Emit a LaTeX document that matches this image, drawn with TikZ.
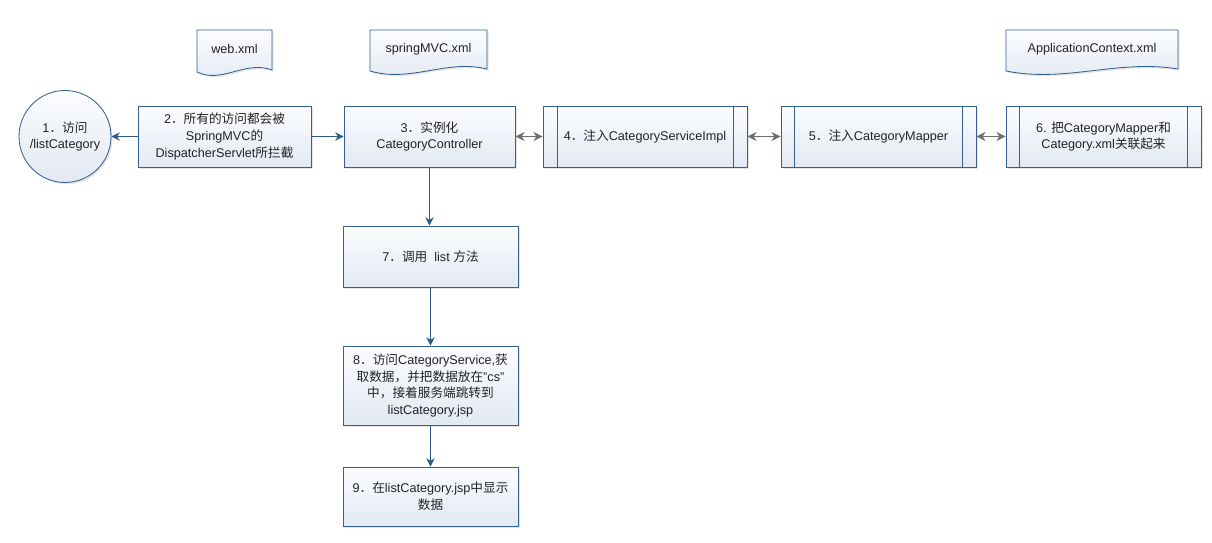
\documentclass[tikz,border=0pt]{standalone}
\usepackage{fontspec}
\setmainfont{Liberation Sans}
\newfontfamily\cjk{Noto Sans CJK SC}
\usepackage{tikz}
\usetikzlibrary{arrows.meta,shadows}

\definecolor{boxline}{RGB}{52,97,145}
\definecolor{boxtop}{RGB}{251,252,254}
\definecolor{boxbot}{RGB}{226,233,243}
\definecolor{flowline}{RGB}{45,90,135}
\definecolor{linkgray}{RGB}{112,112,112}
\definecolor{txt}{RGB}{35,35,35}

\newcommand\zh[1]{{\cjk #1}}
\newcommand\pxl{0.025cm}

\tikzset{
  faint/.style={drop shadow={shadow xshift=1.2pt, shadow yshift=-1.2pt, fill=black, opacity=0.10}},
  box/.style={draw=boxline, line width=0.6pt, top color=boxtop, bottom color=boxbot,
    align=center, inner sep=0pt, text=txt, font=\fontsize{9}{12}\selectfont, faint},
  doc/.style={inner sep=0pt, text=txt, font=\fontsize{9}{12}\selectfont},
  flow/.style={draw=flowline, line width=0.6pt, -{Stealth[length=6pt,width=6pt,inset=2pt]}},
  link/.style={draw=linkgray, line width=0.9pt,
    {Stealth[length=6.5pt,width=6.5pt,inset=2pt]}-{Stealth[length=6.5pt,width=6.5pt,inset=2pt]}},
}

\begin{document}
\begin{tikzpicture}[x=0.025cm, y=-0.025cm]
        \useasboundingbox (0,0) rectangle (1212,543);

        % xml files
        \shade [faint, draw=boxline, line width=0.6pt, top color=boxtop, bottom color=boxbot]
          (197,30) -- (272,30) -- (272,70) .. controls (245,60) and (222,84) .. (197,72) -- cycle;
        \shade [faint, draw=boxline, line width=0.6pt, top color=boxtop, bottom color=boxbot]
          (370,30) -- (487,30) -- (487,69) .. controls (446,59) and (411,83) .. (370,71) -- cycle;
        \shade [faint, draw=boxline, line width=0.6pt, top color=boxtop, bottom color=boxbot]
          (1006,30) -- (1178,30) -- (1178,69) .. controls (1118,59) and (1066,83) .. (1006,71) -- cycle;
        \node [doc] (webxml) at (234.5,49) {web.xml};
        \node [doc] (mvcxml) at (428.5,49) {springMVC.xml};
        \node [doc] (appxml) at (1092,49) {ApplicationContext.xml};

        % first row
        \node [box, circle, minimum size=92*\pxl] (visit) at (65,136.5)
          {1\zh{．访问}\\/listCategory};
        \node [box, minimum width=173*\pxl, minimum height=61*\pxl] (dispatch) at (224.5,136.5)
          {2\zh{．所有的访问都会被}\\SpringMVC\zh{的}\\DispatcherServlet\zh{所拦截}};
        \node [box, minimum width=171*\pxl, minimum height=61*\pxl] (ctrl) at (429.5,136.5)
          {3\zh{．实例化}\\CategoryController};
        \node [box, minimum width=204*\pxl, minimum height=61*\pxl] (service) at (645,136.5)
          {4\zh{．注入}CategoryServiceImpl};
        \node [box, minimum width=195*\pxl, minimum height=61*\pxl] (mapper) at (878.5,136.5)
          {5\zh{．注入}CategoryMapper};
        \node [box, minimum width=195*\pxl, minimum height=61*\pxl] (mapxml) at (1103.5,136.5)
          {6. \zh{把}CategoryMapper\zh{和}\\Category.xml\zh{关联起来}};

        \draw [draw=boxline, line width=0.6pt] ([shift={(15,0)}]service.north west) -- ([shift={(15,0)}]service.south west);
        \draw [draw=boxline, line width=0.6pt] ([shift={(-14,0)}]service.north east) -- ([shift={(-14,0)}]service.south east);
        \draw [draw=boxline, line width=0.6pt] ([shift={(14,0)}]mapper.north west) -- ([shift={(14,0)}]mapper.south west);
        \draw [draw=boxline, line width=0.6pt] ([shift={(-14,0)}]mapper.north east) -- ([shift={(-14,0)}]mapper.south east);
        \draw [draw=boxline, line width=0.6pt] ([shift={(14,0)}]mapxml.north west) -- ([shift={(14,0)}]mapxml.south west);
        \draw [draw=boxline, line width=0.6pt] ([shift={(-14,0)}]mapxml.north east) -- ([shift={(-14,0)}]mapxml.south east);

        % column below the controller
        \node [box, minimum width=175*\pxl, minimum height=61*\pxl] (calllist) at (430.5,256.5)
          {7\zh{．调用}\ \ list \zh{方法}};
        \node [box, minimum width=175*\pxl, minimum height=79*\pxl] (getdata) at (430.5,385.5)
          {8\zh{．访问}CategoryService,\zh{获}\\\zh{取数据，并把数据放在}"cs"\\\zh{中，接着服务端跳转到}\\listCategory.jsp};
        \node [box, minimum width=175*\pxl, minimum height=59*\pxl] (show) at (430.5,496.5)
          {9\zh{．在}listCategory.jsp\zh{中显示}\\\zh{数据}};

        \draw [flow] (dispatch.west) -- (visit.east);
        \draw [flow] (dispatch.east) -- (ctrl.west);
        \draw [flow] (ctrl.south) -- (ctrl.south |- calllist.north);
        \draw [flow] (calllist.south) -- (getdata.north);
        \draw [flow] (getdata.south) -- (show.north);

        \draw [link] (ctrl.east) -- (service.west);
        \draw [link] (service.east) -- (mapper.west);
        \draw [link] (mapper.east) -- (mapxml.west);
      \end{tikzpicture}
\end{document}
